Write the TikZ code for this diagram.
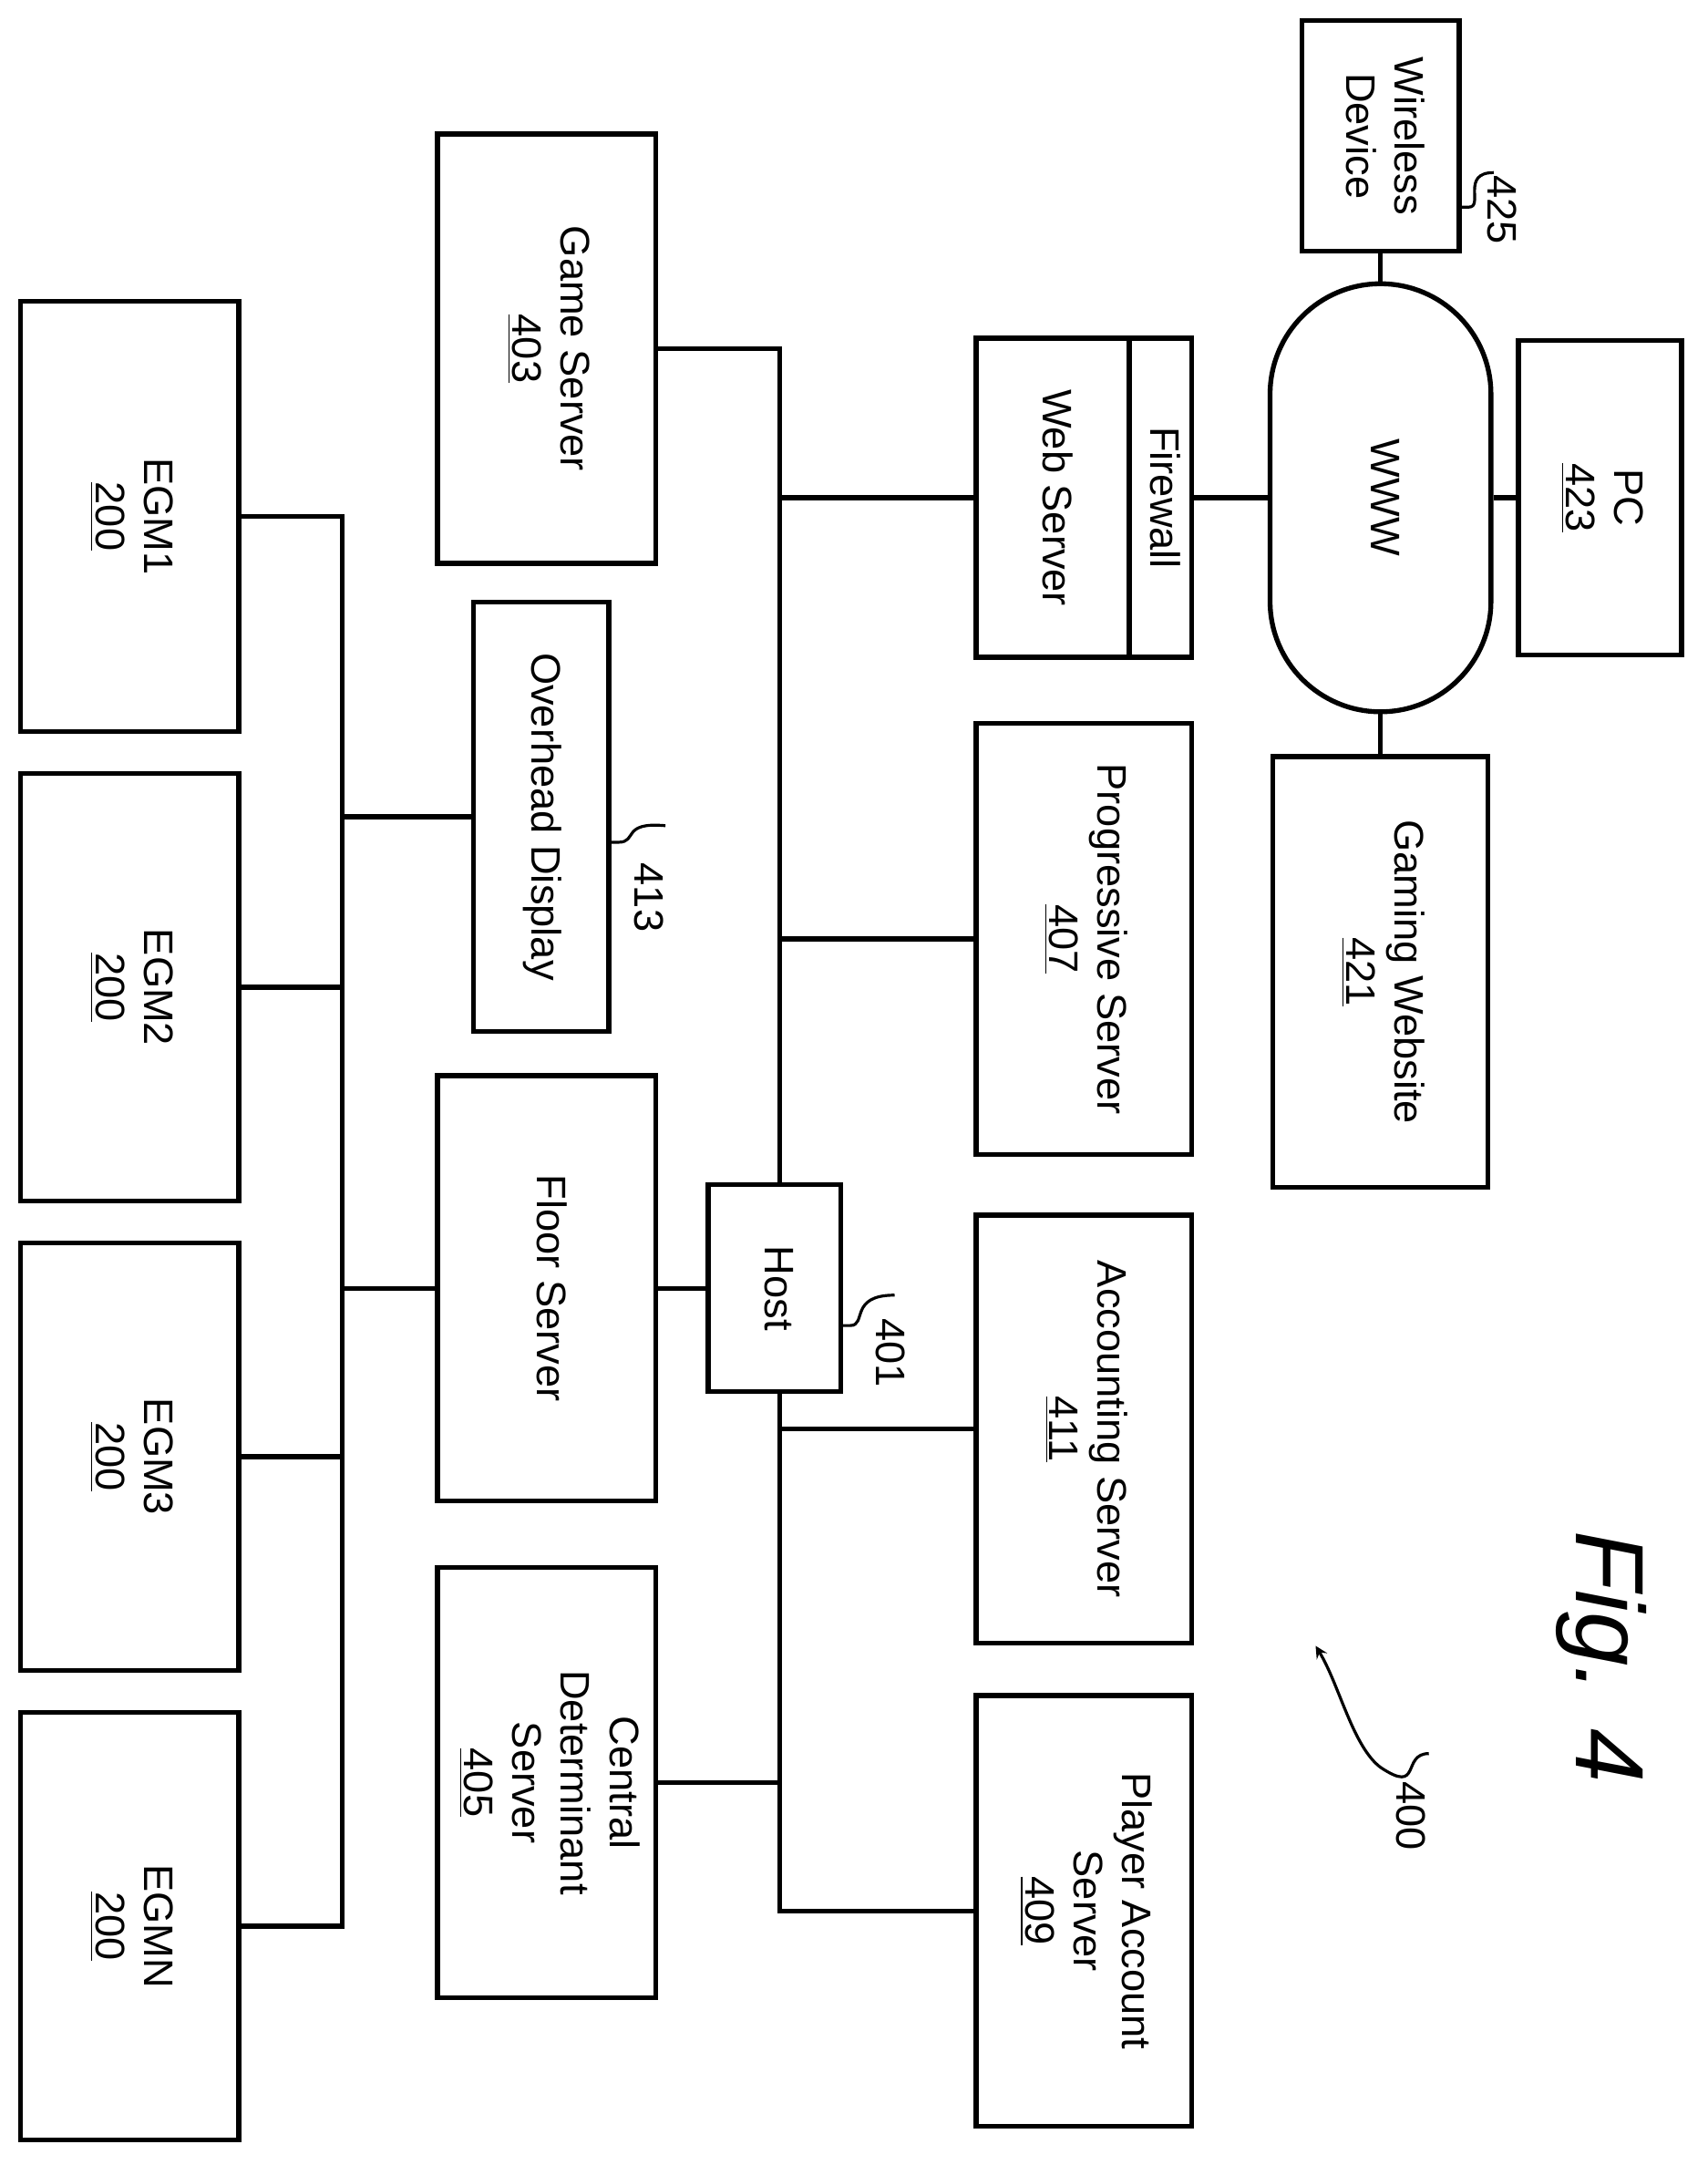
\documentclass[tikz,border=0pt]{standalone}
\usepackage{fontspec}
\setmainfont{Liberation Sans}
\usepackage{graphicx}
\begin{document}
\begin{tikzpicture}[x=0.02cm,y=-0.02cm,line width=2pt,
  box/.style={draw,inner sep=0pt,font=\fontsize{17}{20}\selectfont},
  lab/.style={font=\fontsize{17}{20}\selectfont}]
\newcommand{\rt}[1]{\rotatebox{-90}{\begin{tabular}{@{}c@{}}#1\end{tabular}}}
\useasboundingbox (0,0) rectangle (1237,1568);
\node[box,minimum width=114*0.02cm,minimum height=167*0.02cm] (wd) at (1000,98.5) {\rt{Wireless\\Device}};
\node[box,minimum width=111*0.02cm,minimum height=231*0.02cm] (ws) at (762.5,360.5) {\rt{Web Server}};
\node[box,minimum width=45*0.02cm,minimum height=231*0.02cm] (fw) at (840.5,360.5) {\rt{Firewall}};
\node[box,rounded corners=1.6cm,minimum width=160*0.02cm,minimum height=310*0.02cm] (www) at (1000,360.5) {\rt{WWW}};
\node[box,minimum width=118*0.02cm,minimum height=228*0.02cm] (pc) at (1159,360.5) {\rt{PC\\\underline{423}}};
\node[box,minimum width=156*0.02cm,minimum height=312*0.02cm] (gw) at (1000,704) {\rt{Gaming Website\\\underline{421}}};
\node[box,minimum width=158*0.02cm,minimum height=311*0.02cm] (gs) at (396,252.5) {\rt{Game Server\\\underline{403}}};
\node[box,minimum width=156*0.02cm,minimum height=312*0.02cm] (ps) at (785,680) {\rt{Progressive Server\\\underline{407}}};
\node[box,minimum width=156*0.02cm,minimum height=310*0.02cm] (as) at (785,1035) {\rt{Accounting Server\\\underline{411}}};
\node[box,minimum width=156*0.02cm,minimum height=312*0.02cm] (pa) at (785,1384) {\rt{Player Account\\Server\\\underline{409}}};
\node[box,minimum width=98*0.02cm,minimum height=311*0.02cm] (od) at (392,591.5) {\rt{Overhead Display}};
\node[box,minimum width=158*0.02cm,minimum height=308*0.02cm] (fs) at (396,933) {\rt{Floor Server}};
\node[box,minimum width=96*0.02cm,minimum height=150*0.02cm] (host) at (561,933) {\rt{Host}};
\node[box,minimum width=158*0.02cm,minimum height=312*0.02cm] (cd) at (396,1291) {\rt{Central\\Determinant\\Server\\\underline{405}}};
\node[box,minimum width=158*0.02cm,minimum height=312*0.02cm] (e1) at (94,374) {\rt{EGM1\\\underline{200}}};
\node[box,minimum width=158*0.02cm,minimum height=310*0.02cm] (e2) at (94,715) {\rt{EGM2\\\underline{200}}};
\node[box,minimum width=158*0.02cm,minimum height=310*0.02cm] (e3) at (94,1055) {\rt{EGM3\\\underline{200}}};
\node[box,minimum width=158*0.02cm,minimum height=310*0.02cm] (en) at (94,1395) {\rt{EGMN\\\underline{200}}};
% network
\coordinate (b1) at (565,252.5);
\draw (gs.east) -- (b1) -- (host.north -| b1);
\draw (565,360.5) -- (ws.west);
\draw (565,680) -- (ps.west);
\draw (host.south -| b1) -- (565,1384) -- (pa.west);
\draw (565,1035) -- (as.west);
\draw (cd.east) -- (cd.east -| b1);
\draw (fs.east) -- (host.west);
\draw (fw.east) -- (www.west);
\draw (www.north) -- (wd.south);
\draw (www.east) -- (pc.west);
\draw (www.south) -- (gw.north);
\coordinate (eb) at (248,374);
\draw (e1.east) -- (eb) -- (248,1395) -- (en.east);
\draw (e2.east) -- (e2.east -| eb);
\draw (e3.east) -- (e3.east -| eb);
\draw (fs.west -| eb) -- (fs.west);
\draw (od.west -| eb) -- (od.west);
% reference labels
\draw[line width=1.2pt] (1057,150) -- (1064,150) .. controls (1075,150) and (1058,125) .. (1082,125);
\node[lab,rotate=-90] at (1088,152) {425};
\draw[line width=1.2pt] (441,610) -- (448,610) .. controls (462,610) and (450,595) .. (482,598);
\node[lab,rotate=-90] at (470,650) {413};
\draw[line width=1.2pt] (609,960) -- (616,960) .. controls (628,960) and (615,938) .. (648,938);
\node[lab,rotate=-90] at (645,980) {401};
\draw[line width=1.2pt,-stealth] (1035,1270) .. controls (1015,1270) and (1030,1300) .. (1000,1280) .. controls (980,1265) and (970,1220) .. (953,1192);
\node[lab,rotate=-90] at (1022,1315) {400};
\node[font=\itshape\fontsize{40}{44}\selectfont,rotate=-90] at (1160,1200) {Fig. 4};
\end{tikzpicture}
\end{document}
